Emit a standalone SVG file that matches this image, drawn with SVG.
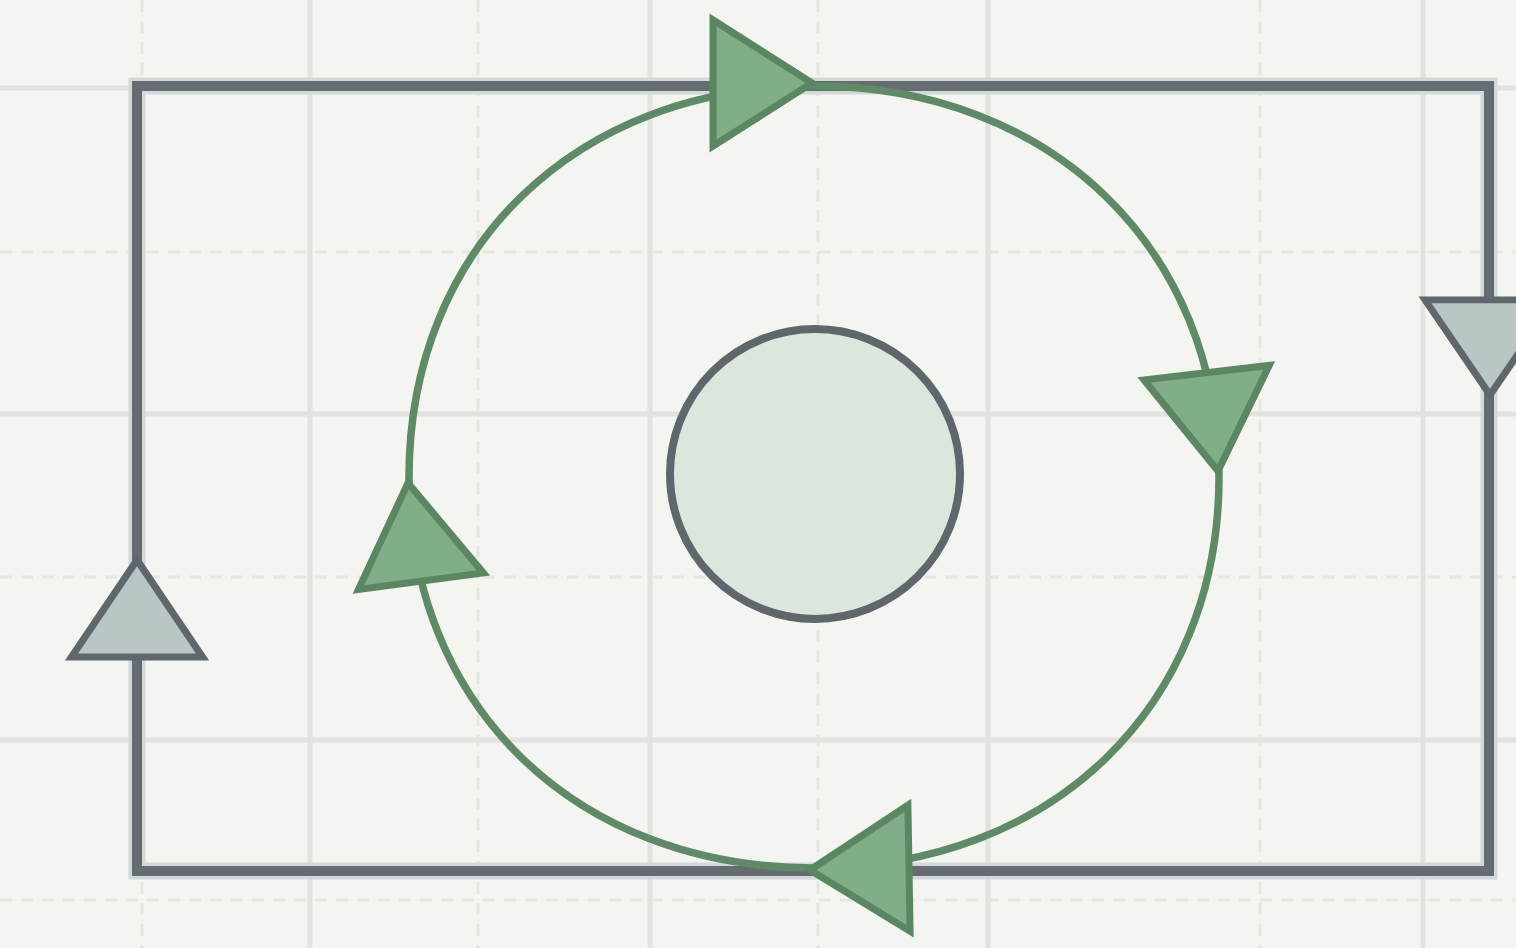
<svg xmlns="http://www.w3.org/2000/svg" xmlns:xlink="http://www.w3.org/1999/xlink" width="1516" height="948" viewBox="0 0 1516 948">
<style>
.bg{fill:#f4f4f0}
.gs{stroke:#e2e2de;stroke-width:5;fill:none}
.gd{stroke:#e6e6e1;stroke-width:3;fill:none;stroke-dasharray:12 9}
.loop-halo{fill:none;stroke:#d3d8da;stroke-width:17;stroke-linejoin:miter}
.loop{fill:none;stroke:#666d72;stroke-width:10;stroke-linejoin:miter}
.ring{fill:none;stroke:#5e8a66;stroke-width:7.5}
.ga{fill:#80ae88;stroke:#5a8662;stroke-width:7;stroke-linejoin:miter}
.sa{fill:#b8c6c6;stroke:#5f676c;stroke-width:7;stroke-linejoin:miter}
.hub{fill:#dde6dd;stroke:#5f676c;stroke-width:8}
</style>
<defs>
<path id="tri" d="M0,0 L-99,-63 L-99,63 Z"/>
</defs>
<rect class="bg" x="0" y="0" width="1516" height="948"/>
<g id="grid">
<path class="gs" d="M310,0V948M650,0V948M988,0V948M1423,0V948M0,88H1516M0,414H1516M0,740H1516"/>
<path class="gd" d="M142,0V948M478,0V948M818,0V948M1260,0V948M0,252H1516M0,577H1516M0,900H1516"/>
</g>
<g id="connectors">
<g id="outer-loop">
<rect class="loop-halo" x="137" y="86" width="1352" height="785"/>
<rect class="loop" x="137" y="86" width="1352" height="785"/>
<use xlink:href="#tri" href="#tri" class="sa" transform="translate(137,560) rotate(-90) scale(0.98,1.04)"/>
<use xlink:href="#tri" href="#tri" class="sa" transform="translate(1490,395) rotate(90) scale(0.96,1.03)"/>
</g>
<g id="inner-cycle">
<path class="ring" d="M814,86 C1052,86 1219,250 1219,477 C1219,706 1052,868 814,868 C576,868 409,706 409,477 C409,248 576,86 814,86 Z"/>
<use xlink:href="#tri" href="#tri" class="ga" transform="translate(812,83) rotate(0)"/>
<use xlink:href="#tri" href="#tri" class="ga" transform="translate(1218,471) rotate(83.4)"/>
<use xlink:href="#tri" href="#tri" class="ga" transform="translate(810,870) rotate(179)"/>
<use xlink:href="#tri" href="#tri" class="ga" transform="translate(408,483) rotate(-97.5)"/>
</g>
</g>
<g id="hub">
<circle class="hub" cx="815" cy="474" r="145"/>
</g>
</svg>
